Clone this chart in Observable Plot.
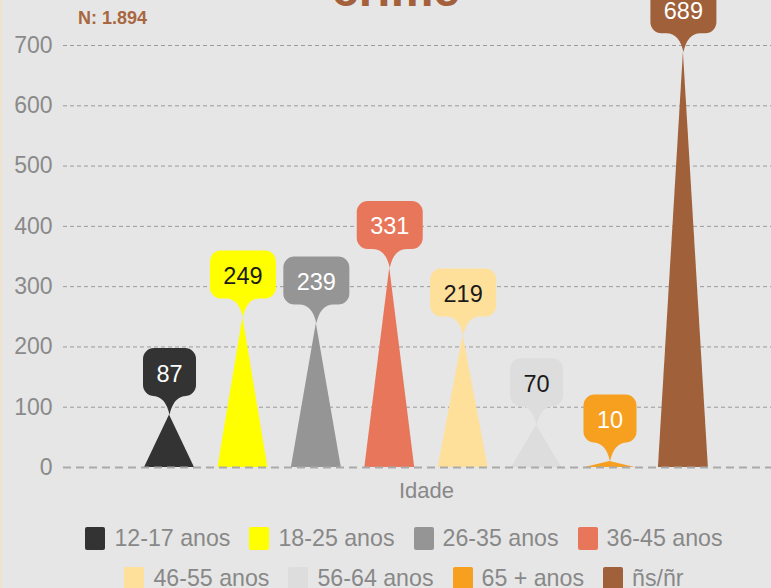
<!DOCTYPE html>
<html><head><meta charset="utf-8">
<script src="https://cdn.jsdelivr.net/npm/d3@7"></script>
<script src="https://cdn.jsdelivr.net/npm/@observablehq/plot@0.6"></script>
<style>
html,body{margin:0;padding:0;}
body{background:#e6e6e6;font-family:"Liberation Sans",Arial,sans-serif;width:771px;height:588px;overflow:hidden;position:relative;}
#edge{position:absolute;left:0;top:0;width:2px;height:588px;background:#efe3cf;}
#title{position:absolute;left:0;width:792px;text-align:center;top:-34px;font-size:48px;line-height:48px;font-weight:bold;color:#a4603a;}
#n{position:absolute;left:78px;top:8px;font-size:18px;font-weight:bold;color:#a9673f;}
#chart{position:absolute;left:0;top:0;}
#legend{position:absolute;left:37px;top:518px;width:734px;display:flex;flex-wrap:wrap;justify-content:center;}
.item{display:flex;align-items:center;height:40px;margin:0 9.5px;font-size:23.2px;color:#888;}
.sw{width:20px;height:23px;border-radius:2px;margin-right:9px;}
</style></head><body>
<div id="edge"></div>
<div id="title">crime</div>
<div id="n">N: 1.894</div>
<div id="chart"></div>
<div id="legend"></div>
<script>
const categories = ["12-17 anos","18-25 anos","26-35 anos","36-45 anos","46-55 anos","56-64 anos","65 + anos","ñs/ñr"];
const values = [87,249,239,331,219,70,10,689];
const colors = ["#333333","#ffff00","#959595","#e8765a","#ffe09a","#dddddd","#f79f1f","#a0603a"];
const labelDark = [false,true,false,false,true,true,false,false];
const yTicks = [0,100,200,300,400,500,600,700];
const xLabel = "Idade";

const rows = categories.map((c,i)=>({i, c, v: values[i], dark: labelDark[i]}));
const half = 0.34;
const tri = rows.flatMap(d => [
  {x: d.i - half, y: 0, c: d.c},
  {x: d.i, y: d.v, c: d.c},
  {x: d.i + half, y: 0, c: d.c}
]);

function bubble(w){
  return {draw(ctx){
    const h=48, r=11, p=19, n=17;
    const bot=-p, top=-(p+h), L=-w/2, R=w/2;
    ctx.moveTo(0,0);
    ctx.quadraticCurveTo(-4, bot, -n, bot);
    ctx.lineTo(L+r, bot);
    ctx.arcTo(L, bot, L, bot-r, r);
    ctx.lineTo(L, top+r);
    ctx.arcTo(L, top, L+r, top, r);
    ctx.lineTo(R-r, top);
    ctx.arcTo(R, top, R, top+r, r);
    ctx.lineTo(R, bot-r);
    ctx.arcTo(R, bot, R-r, bot, r);
    ctx.lineTo(n, bot);
    ctx.quadraticCurveTo(4, bot, 0, 0);
    ctx.closePath();
  }};
}

const chart = Plot.plot({
  width: 771,
  height: 510,
  marginLeft: 63,
  marginRight: 0,
  marginTop: 45,
  marginBottom: 43,
  style: {background: "transparent", fontFamily: "Liberation Sans, Arial, sans-serif"},
  x: {type: "linear", domain: [-1.444, 8.2], axis: null},
  y: {domain: [0, 700]},
  color: {domain: categories, range: colors},
  marks: [
    Plot.ruleY(yTicks.filter(t => t > 0), {stroke: "#9a9a9a", strokeWidth: 1, strokeDasharray: "4,3"}),
    Plot.areaY(tri, {x: "x", y: "y", z: "c", fill: "c"}),
    Plot.ruleY([0], {stroke: "#aaaaaa", strokeWidth: 2, strokeDasharray: "8,5"}),
    Plot.axisY({ticks: yTicks, tickSize: 0, tickPadding: 11, fontSize: 23, color: "#8a8a8a", label: null}),
    Plot.dot(rows.filter(d => String(d.v).length < 3), {x: "i", y: "v", fill: "c", stroke: "none", symbol: bubble(53)}),
    Plot.dot(rows.filter(d => String(d.v).length >= 3), {x: "i", y: "v", fill: "c", stroke: "none", symbol: bubble(66)}),
    Plot.text(rows.filter(d => !d.dark), {x: "i", y: "v", text: d => String(d.v), dy: -41, fontSize: 23.5, fill: "#ffffff"}),
    Plot.text(rows.filter(d => d.dark), {x: "i", y: "v", text: d => String(d.v), dy: -41, fontSize: 23.5, fill: "#1a1a1a"}),
    Plot.text([xLabel], {x: [d3.mean(rows, d => d.i)], frameAnchor: "bottom", dy: 30, fontSize: 22, fill: "#888888", text: d => d})
  ]
});
document.getElementById("chart").appendChild(chart);

const legend = document.getElementById("legend");
categories.forEach((c,i) => {
  const it = document.createElement("div");
  it.className = "item";
  const sw = document.createElement("div");
  sw.className = "sw";
  sw.style.background = colors[i];
  const t = document.createElement("span");
  t.textContent = c;
  it.appendChild(sw); it.appendChild(t);
  legend.appendChild(it);
});
</script>
</body></html>
